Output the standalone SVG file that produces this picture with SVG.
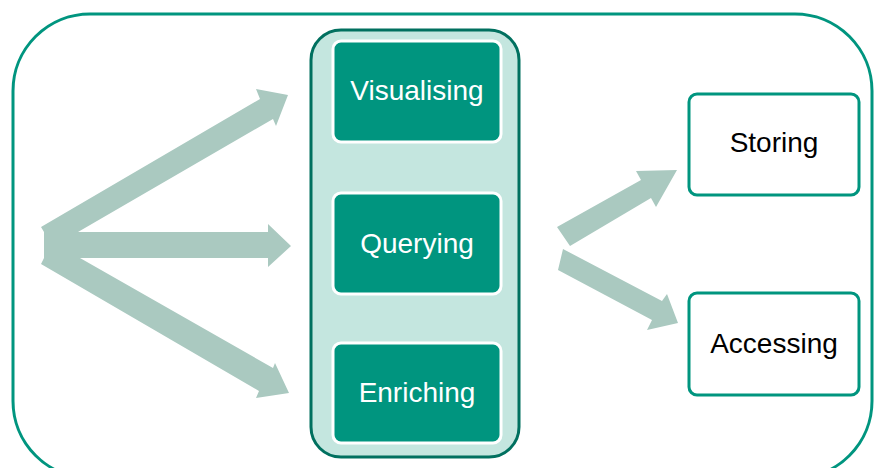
<svg xmlns="http://www.w3.org/2000/svg" width="875" height="468" viewBox="0 0 875 468">
<defs>
<style>
.frame{fill:#ffffff;stroke:#00957f;stroke-width:3}
.arrow{fill:#aac9c0;stroke:none}
.group{fill:#c4e6df;stroke:#00705f;stroke-width:3}
.inner{fill:#00957f;stroke:#ffffff;stroke-width:3}
.outbox{fill:#ffffff;stroke:#00957f;stroke-width:3}
.lw{font-family:"Liberation Sans",Arial,sans-serif;font-size:28px;fill:#ffffff;text-anchor:middle}
.lb{font-family:"Liberation Sans",Arial,sans-serif;font-size:28px;fill:#000000;text-anchor:middle}
</style>
</defs>
<rect class="frame" x="13" y="14" width="859" height="464" rx="77" ry="77"/>
<g id="connectors">
<polygon class="arrow" points="41,227 260,99 256,89 288,95 276,126 273,119 78,232 268,232 268,224 291,246 268,267 268,258 80,258 273,368 275,363 289,393 256,398 259,391 41,264 44,258 44,232"/>
<polygon class="arrow" points="557,227 641,180 636,171 677,170 656,207 651,198 570,246"/>
<polygon class="arrow" points="563,249 662,301 667,294 678,323 647,330 652,320 558,270"/>
</g>
<g id="processing">
<rect class="group" x="311" y="30" width="208" height="427" rx="30" ry="30"/>
</g>
<g id="visualising">
<rect class="inner" x="333" y="41" width="168" height="101" rx="8" ry="8"/>
<text class="lw" x="417" y="100">Visualising</text>
</g>
<g id="querying">
<rect class="inner" x="333" y="193" width="168" height="101" rx="8" ry="8"/>
<text class="lw" x="417" y="253">Querying</text>
</g>
<g id="enriching">
<rect class="inner" x="333" y="343" width="168" height="100" rx="8" ry="8"/>
<text class="lw" x="417" y="402">Enriching</text>
</g>
<g id="storing">
<rect class="outbox" x="689" y="94" width="170" height="101" rx="8" ry="8"/>
<text class="lb" x="774" y="152">Storing</text>
</g>
<g id="accessing">
<rect class="outbox" x="689" y="293" width="170" height="102" rx="8" ry="8"/>
<text class="lb" x="774" y="353">Accessing</text>
</g>
</svg>
